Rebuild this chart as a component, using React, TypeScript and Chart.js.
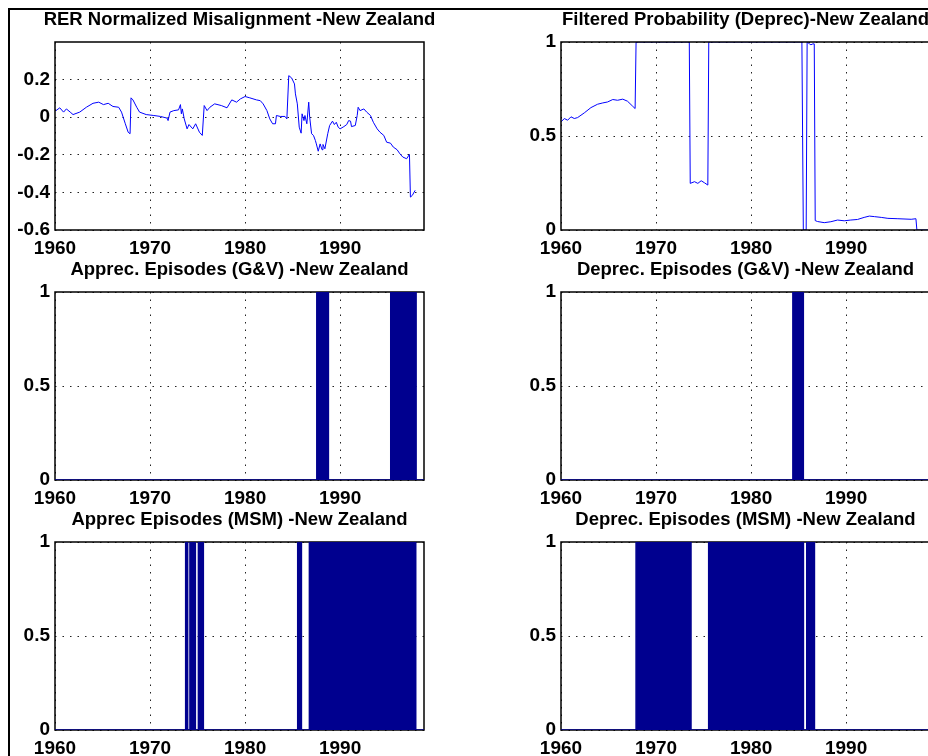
import React, { useEffect, useRef } from "react";
import { Chart, registerables } from "chart.js";

Chart.register(...registerables);

// ---------------- data ----------------
const X_MIN = 1960;
const X_MAX = 1998.83;
const xTicks = [1960, 1970, 1980, 1990];

const rerTicks = [-0.6, -0.4, -0.2, 0, 0.2];
const probTicks = [0, 0.5, 1];

const rerYears = [
  1960.1, 1960.5, 1960.9, 1961.2, 1961.6, 1961.9, 1962.6, 1963.3, 1964.0, 1964.6,
  1965.1, 1965.6, 1966.1, 1966.7, 1967.0, 1967.4, 1967.7, 1967.9, 1968.0, 1968.2,
  1968.6, 1968.9, 1969.6, 1970.4, 1971.1, 1971.8, 1971.9, 1972.1, 1972.5, 1973.0,
  1973.2, 1973.3, 1973.4, 1973.6, 1973.9, 1974.1, 1974.5, 1974.8, 1975.2, 1975.5,
  1975.7, 1976.0, 1976.3, 1976.8, 1977.5, 1978.1, 1978.6, 1979.1, 1979.5, 1980.0,
  1980.5, 1981.2, 1981.6, 1981.9, 1982.3, 1982.6, 1982.9, 1983.2, 1983.3, 1983.7,
  1984.2, 1984.4, 1984.6, 1984.9, 1985.2, 1985.3, 1985.5, 1985.7, 1985.9, 1986.0,
  1986.2, 1986.3, 1986.5, 1986.7, 1986.8, 1987.0, 1987.2, 1987.4, 1987.5, 1987.7,
  1987.9, 1988.1, 1988.2, 1988.4, 1988.7, 1988.9, 1989.2, 1989.4, 1989.6, 1989.8,
  1990.0, 1990.4, 1990.7, 1990.9, 1991.1, 1991.2, 1991.6, 1991.8, 1991.9, 1992.1,
  1992.5, 1992.8, 1993.2, 1993.5, 1993.9, 1994.2, 1994.6, 1994.9, 1995.3, 1995.6,
  1996.0, 1996.3, 1996.6, 1997.0, 1997.3, 1997.4, 1997.6, 1997.9,
];
const rerValues = [
  0.035, 0.05, 0.027, 0.044, 0.027, 0.014, 0.027, 0.053, 0.074, 0.08,
  0.067, 0.074, 0.057, 0.053, 0.027, -0.035, -0.08, -0.088, 0.103, 0.092,
  0.053, 0.027, 0.014, 0.009, 0.004, -0.005, -0.018, 0.027, 0.035, 0.039,
  0.067, 0.018, 0.044, -0.009, -0.062, -0.039, -0.062, -0.035, -0.08, -0.097,
  0.062, 0.035, 0.053, 0.071, 0.062, 0.05, 0.092, 0.08, 0.097, 0.11,
  0.103, 0.092, 0.088, 0.071, 0.035, -0.009, -0.035, -0.035, 0.009, 0.004,
  0.004, -0.009, 0.221, 0.209, 0.177, 0.124, 0.071, -0.053, -0.085, 0.018,
  -0.018, 0.009, -0.035, 0.08, 0.0, -0.088, -0.097, -0.124, -0.142, -0.181,
  -0.142, -0.173, -0.145, -0.168, -0.088, -0.044, -0.021, -0.039, -0.027, -0.053,
  -0.062, -0.05, -0.039, -0.018, -0.021, -0.05, -0.044, 0.009, 0.053, 0.035,
  0.044, 0.027, 0.009, -0.027, -0.062, -0.08, -0.097, -0.133, -0.138, -0.159,
  -0.173, -0.195, -0.212, -0.221, -0.198, -0.425, -0.416, -0.389,
];

const probYears = [
  1960.0, 1960.35, 1960.7, 1961.05, 1961.4, 1961.75, 1962.45, 1963.15, 1963.85, 1964.4,
  1964.9, 1965.45, 1965.95, 1966.5, 1967.0, 1967.55, 1967.8, 1967.9,
  1973.5, 1973.6, 1974.05, 1974.4, 1974.75, 1975.1, 1975.45, 1975.55,
  1985.35, 1985.5, 1985.8, 1985.9, 1986.15, 1986.3, 1986.5, 1986.65, 1986.75,
  1987.0, 1987.7, 1988.4, 1989.1, 1989.8, 1990.5, 1991.2, 1991.9, 1992.45, 1993.0,
  1993.7, 1994.4, 1995.45, 1996.85, 1997.35, 1997.45, 1998.83,
];
const probValues = [
  0.575, 0.593, 0.584, 0.602, 0.593, 0.598, 0.623, 0.651, 0.669, 0.676,
  0.681, 0.694, 0.69, 0.696, 0.685, 0.658, 0.646, 1,
  1, 0.248, 0.257, 0.248, 0.262, 0.251, 0.239, 1,
  1, 0, 0, 1, 0.99, 0.985, 0.99, 0.99, 0.05,
  0.045, 0.039, 0.044, 0.053, 0.049, 0.053, 0.056, 0.067, 0.074, 0.071,
  0.067, 0.062, 0.06, 0.057, 0.06, 0, 0,
];

const apprecGVStarts = [1987.55, 1995.33];
const apprecGVEnds = [1988.77, 1998.0];
const deprecGVStarts = [1984.4];
const deprecGVEnds = [1985.5];
const apprecMSMStarts = [1973.75, 1974.2, 1975.09, 1985.54, 1986.77];
const apprecMSMEnds = [1973.96, 1974.77, 1975.61, 1985.93, 1997.96];
const deprecMSMStarts = [1967.9, 1975.54, 1985.86];
const deprecMSMEnds = [1973.68, 1985.51, 1986.67];

// ---------------- styling ----------------
const FONT = "'Liberation Sans', Arial, Helvetica, sans-serif";
const LINE_BLUE = "#0000ff";
const NAVY = "#00008f";
const CANVAS_W = 463;
const CANVAS_H = 262;
const AXIS_W = 47;

function strokeBox(chart: any) {
  const { ctx, chartArea } = chart;
  ctx.save();
  ctx.strokeStyle = "#000";
  ctx.lineWidth = 1.5;
  ctx.setLineDash([]);
  ctx.strokeRect(chartArea.left, chartArea.top, chartArea.right - chartArea.left, chartArea.bottom - chartArea.top);
  ctx.restore();
}

const boxUnderPlugin = { id: "axesBoxUnder", beforeDatasetsDraw: strokeBox };
const boxOverPlugin = { id: "axesBoxOver", afterDatasetsDraw: strokeBox };

function seriesPoints(xs: number[], ys: number[]) {
  return xs.map((x, i) => ({ x, y: ys[i] }));
}

function episodePoints(starts: number[], ends: number[]) {
  const pts: { x: number; y: number }[] = [{ x: X_MIN, y: 0 }];
  starts.forEach((s, i) => {
    pts.push({ x: s, y: 0 }, { x: s, y: 1 }, { x: ends[i], y: 1 }, { x: ends[i], y: 0 });
  });
  pts.push({ x: X_MAX, y: 0 });
  return pts;
}

type PanelSpec = {
  title: string;
  left: number;
  top: number;
  yMin: number;
  yMax: number;
  yTicks: number[];
  dataset: any;
  boxOnTop: boolean;
};

function fmtY(v: number) {
  return String(Number(v.toFixed(2)));
}

function makeConfig(p: PanelSpec): any {
  const tickFont = { family: FONT, size: 19, weight: "bold" as const };
  const grid = { color: "#222", lineWidth: 1, drawTicks: false };
  const border = { display: false, dash: [1.5, 6] };
  return {
    type: "line",
    data: { datasets: [p.dataset] },
    options: {
      animation: false,
      responsive: false,
      devicePixelRatio: 1,
      events: [],
      layout: { padding: 0 },
      plugins: {
        legend: { display: false },
        tooltip: { enabled: false },
        title: {
          display: true,
          text: p.title,
          color: "#000",
          font: { family: FONT, size: 18.5, weight: "bold", lineHeight: 1.2 },
          padding: { top: 8.9, bottom: 10.9 },
        },
      },
      scales: {
        x: {
          type: "linear",
          min: X_MIN,
          max: X_MAX,
          afterBuildTicks: (s: any) => {
            s.ticks = xTicks.map((v) => ({ value: v }));
          },
          afterFit: (s: any) => {
            s.height = 32;
          },
          grid,
          border,
          ticks: {
            autoSkip: false,
            maxRotation: 0,
            color: "#000",
            font: tickFont,
            padding: 7,
            callback: (v: any) => String(v),
          },
        },
        y: {
          type: "linear",
          position: "left",
          min: p.yMin,
          max: p.yMax,
          afterBuildTicks: (s: any) => {
            s.ticks = p.yTicks.map((v) => ({ value: v }));
          },
          afterFit: (s: any) => {
            s.width = AXIS_W;
          },
          grid,
          border,
          ticks: {
            autoSkip: false,
            color: "#000",
            font: tickFont,
            padding: 5,
            callback: (v: any) => fmtY(Number(v)),
          },
        },
        ySpacer: {
          type: "linear",
          position: "right",
          min: p.yMin,
          max: p.yMax,
          afterFit: (s: any) => {
            s.width = AXIS_W;
          },
          grid: { display: false, drawTicks: false },
          border: { display: false },
          ticks: { display: false },
        },
      },
    },
    plugins: [p.boxOnTop ? boxOverPlugin : boxUnderPlugin],
  };
}

const lineDataset = (xs: number[], ys: number[]) => ({
  data: seriesPoints(xs, ys),
  borderColor: LINE_BLUE,
  borderWidth: 1,
  pointRadius: 0,
  tension: 0,
  fill: false,
});

const areaDataset = (starts: number[], ends: number[]) => ({
  data: episodePoints(starts, ends),
  borderColor: NAVY,
  backgroundColor: NAVY,
  borderWidth: 1.5,
  pointRadius: 0,
  tension: 0,
  fill: "origin",
});

const LEFT_X = 8;
const RIGHT_X = 514;

const panels: PanelSpec[] = [
  {
    title: "RER Normalized Misalignment -New Zealand",
    left: LEFT_X, top: 0, yMin: -0.6, yMax: 0.4, yTicks: rerTicks,
    dataset: lineDataset(rerYears, rerValues), boxOnTop: false,
  },
  {
    title: "Filtered Probability (Deprec)-New Zealand",
    left: RIGHT_X, top: 0, yMin: 0, yMax: 1, yTicks: probTicks,
    dataset: lineDataset(probYears, probValues), boxOnTop: true,
  },
  {
    title: "Apprec. Episodes (G&V) -New Zealand",
    left: LEFT_X, top: 250, yMin: 0, yMax: 1, yTicks: probTicks,
    dataset: areaDataset(apprecGVStarts, apprecGVEnds), boxOnTop: false,
  },
  {
    title: "Deprec. Episodes (G&V) -New Zealand",
    left: RIGHT_X, top: 250, yMin: 0, yMax: 1, yTicks: probTicks,
    dataset: areaDataset(deprecGVStarts, deprecGVEnds), boxOnTop: false,
  },
  {
    title: "Apprec Episodes (MSM) -New Zealand",
    left: LEFT_X, top: 500, yMin: 0, yMax: 1, yTicks: probTicks,
    dataset: areaDataset(apprecMSMStarts, apprecMSMEnds), boxOnTop: false,
  },
  {
    title: "Deprec. Episodes (MSM) -New Zealand",
    left: RIGHT_X, top: 500, yMin: 0, yMax: 1, yTicks: probTicks,
    dataset: areaDataset(deprecMSMStarts, deprecMSMEnds), boxOnTop: false,
  },
];

function Panel({ spec }: { spec: PanelSpec }) {
  const ref = useRef<HTMLCanvasElement>(null);
  useEffect(() => {
    if (!ref.current) return;
    const chart = new Chart(ref.current, makeConfig(spec));
    return () => chart.destroy();
  }, [spec]);
  return (
    <canvas
      ref={ref}
      width={CANVAS_W}
      height={CANVAS_H}
      style={{ position: "absolute", left: spec.left, top: spec.top, width: CANVAS_W, height: CANVAS_H }}
    />
  );
}

export default function App() {
  return (
    <div
      style={{
        position: "fixed",
        left: 0,
        top: 0,
        width: 928,
        height: 756,
        overflow: "hidden",
        background: "#fff",
      }}
    >
      <div style={{ position: "absolute", left: 8, top: 8, width: 920, height: 2, background: "#000" }} />
      <div style={{ position: "absolute", left: 8, top: 8, width: 2, height: 748, background: "#000" }} />
      {panels.map((p, i) => (
        <Panel key={i} spec={p} />
      ))}
    </div>
  );
}
